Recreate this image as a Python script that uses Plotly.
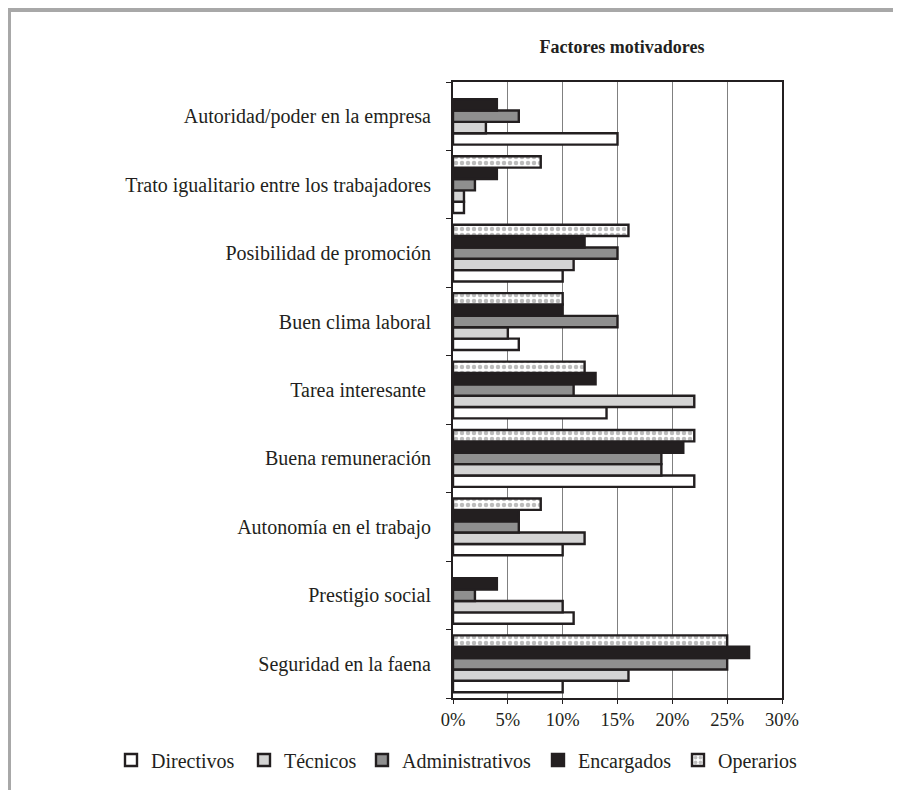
import plotly.graph_objects as go

categories = [
    "Autoridad/poder en la empresa",
    "Trato igualitario entre los trabajadores",
    "Posibilidad de promoción",
    "Buen clima laboral",
    "Tarea interesante ",
    "Buena remuneración",
    "Autonomía en el trabajo",
    "Prestigio social",
    "Seguridad en la faena",
]
directivos = [15, 1, 10, 6, 14, 22, 10, 11, 10]
tecnicos = [3, 1, 11, 5, 22, 19, 12, 10, 16]
administrativos = [6, 2, 15, 15, 11, 19, 6, 2, 25]
encargados = [4, 4, 12, 10, 13, 21, 6, 4, 27]
operarios = [None, 8, 16, 10, 12, 22, 8, None, 25]
x_ticks = [0, 5, 10, 15, 20, 25, 30]
x_tick_labels = [f"{v}%" for v in x_ticks]

OFF = 8  # page body margin
W, H = 885, 782
L, R, T, B = 453 - OFF, 782 - OFF, 82 - OFF, 698 - OFF
FONT = "Liberation Serif"
INK = "#231f20"

def px_x(p):
    return (p - L) / (R - L)

def px_y(p):
    return (B - p) / (B - T)

fig = go.Figure()
series = [
    ("Directivos", directivos, "#ffffff", None),
    ("Técnicos", tecnicos, "#d4d4d4", None),
    ("Administrativos", administrativos, "#8f8f8f", None),
    ("Encargados", encargados, INK, None),
    ("Operarios", operarios, "#ffffff", dict(shape=".", fgcolor="#7a7a7a", bgcolor="#ffffff", size=6, solidity=0.45)),
]
legend_symbol_left = [125, 258, 376, 552, 692]  # page pixels of each legend entry
legend_ids = ["legend", "legend2", "legend3", "legend4", "legend5"]

layout_legends = {}
for i, (name, vals, col, pat) in enumerate(series):
    marker = dict(color=col, line=dict(color=INK, width=2.4))
    if pat:
        marker["pattern"] = pat
    fig.add_trace(go.Bar(y=categories, x=vals, name=name, orientation="h", marker=marker,
                         legend=legend_ids[i]))
    layout_legends[legend_ids[i]] = dict(
        orientation="h", xref="paper", x=px_x(legend_symbol_left[i] - 14 - OFF), xanchor="left",
        yref="paper", y=px_y(760 - OFF), yanchor="middle", bgcolor="rgba(0,0,0,0)",
        font=dict(size=20, family=FONT, color=INK), itemwidth=30)

fig.update_layout(
    width=W, height=H,
    margin=dict(l=L, r=W - R, t=T, b=H - B, autoexpand=False),
    barmode="group", bargap=0.17, bargroupgap=0,
    paper_bgcolor="white", plot_bgcolor="white",
    font=dict(family=FONT, size=18, color=INK),
    title=dict(text="<b>Factores motivadores</b>", x=(622 - OFF) / W, xref="container", xanchor="center",
               y=1 - (47 - OFF) / H, yref="container", yanchor="middle", font=dict(size=18, family=FONT, color=INK)),
    showlegend=True,
    **layout_legends,
)
fig.update_xaxes(range=[0, 30], tickvals=x_ticks, ticktext=x_tick_labels, showgrid=True, gridcolor="#808080",
                 gridwidth=1, showline=True, linecolor=INK, linewidth=2, mirror=True, ticks="outside", ticklen=4,
                 tickcolor=INK, zeroline=False, tickfont=dict(size=18.5, family=FONT, color=INK))
fig.update_yaxes(categoryorder="array", categoryarray=categories[::-1], showline=True, linecolor=INK,
                 linewidth=2, mirror=True, ticks="outside", tickson="boundaries", ticklen=5, tickcolor=INK,
                 ticklabelstandoff=16, tickfont=dict(size=20, family=FONT, color=INK))

# outer document frame (top and left edges)
fig.add_shape(type="line", xref="paper", yref="paper", x0=px_x(0), x1=px_x(W + 5), y0=px_y(2), y1=px_y(2),
              line=dict(color="#a8a8a8", width=4))
fig.add_shape(type="line", xref="paper", yref="paper", x0=px_x(1.5), x1=px_x(1.5), y0=px_y(0), y1=px_y(H + 5),
              line=dict(color="#a8a8a8", width=3))

fig.write_html("out.html")
